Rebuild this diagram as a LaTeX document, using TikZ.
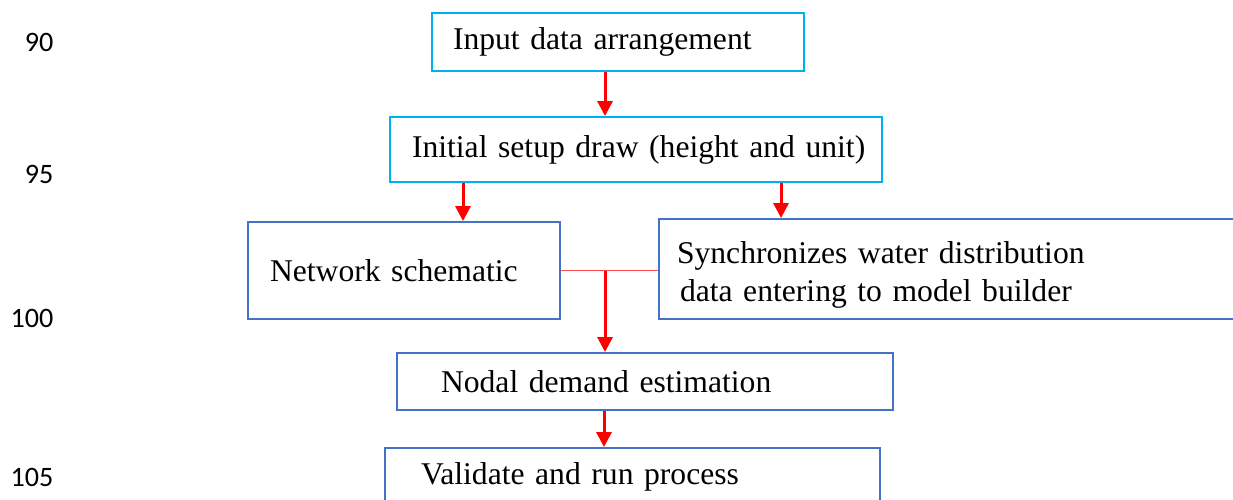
\documentclass[tikz,border=0pt]{standalone}
\usepackage{fontspec}
\setmainfont{Liberation Serif}
\newfontfamily\numfont{Carlito}
\usetikzlibrary{arrows.meta}

\definecolor{boxcyan}{HTML}{00B0F0}
\definecolor{boxblue}{HTML}{4472C4}
\definecolor{linkred}{HTML}{FF4B4B}

\tikzset{
  stepbox/.style={draw=boxblue, line width=1.1pt, rectangle, align=left,
    font=\fontsize{18}{22}\selectfont, inner ysep=0pt, anchor=center},
  topbox/.style={stepbox, draw=boxcyan},
  arr/.style={red, line width=1.7pt, -{Triangle[width=8.5pt,length=8.5pt]}},
  link/.style={linkred, line width=0.9pt},
  linenum/.style={font=\numfont\fontsize{16}{18}\selectfont, anchor=east}
}

\begin{document}
\begin{tikzpicture}

    \useasboundingbox (0,0) rectangle (24.66,-9.98);
    \clip (0,0) rectangle (24.66,-9.98);

    % line numbers
    \node[linenum] (n90)  at (1.19,-0.84) {90};
    \node[linenum] (n95)  at (1.19,-3.48) {95};
    \node[linenum] (n100) at (1.19,-6.36) {100};
    \node[linenum] (n105) at (1.19,-9.54) {105};

    % boxes
    \node[topbox, minimum width=7.44cm, minimum height=1.16cm,
          text width=6.6cm, inner xsep=0.42cm] (input) at (12.36,-0.84)
          {Input data arrangement};
    \node[topbox, minimum width=9.84cm, minimum height=1.30cm,
          text width=9.2cm, inner xsep=0.32cm] (setup) at (12.72,-2.99)
          {\hspace*{0.12cm}Initial setup draw (height and unit)};
    \node[stepbox, minimum width=6.24cm, minimum height=1.94cm,
          text width=5.36cm, inner xsep=0.44cm] (netw) at (8.08,-5.41)
          {Network schematic};
    \node[stepbox, minimum width=11.82cm, minimum height=2.00cm,
          text width=11.10cm, inner xsep=0.36cm] (sync) at (19.09,-5.38)
          {\rule{0pt}{0.68cm}Synchronizes water distribution\\\hspace{0.06cm}data entering to model builder};
    \node[stepbox, minimum width=9.92cm, minimum height=1.14cm,
          text width=8.16cm, inner xsep=0.88cm] (nodal) at (12.90,-7.63)
          {Nodal demand estimation};
    \node[stepbox, minimum width=9.90cm, minimum height=1.16cm,
          text width=8.46cm, inner xsep=0.72cm] (valid) at (12.65,-9.54)
          {Validate and run process};

    % connectors
    \draw[arr] ([xshift=-0.26cm]input.south) -- ([xshift=-0.26cm]input.south |- setup.north);
    \draw[arr] ([xshift=1.18cm]netw.north |- setup.south) -- ([xshift=1.18cm]netw.north);
    \draw[arr] ([xshift=2.46cm]sync.north west |- setup.south) -- ([xshift=2.46cm]sync.north west);

    \coordinate (junc) at ([xshift=-0.80cm]nodal.north |- netw.east);
    \draw[link] (netw.east) -- (netw.east -| sync.west);
    \draw[arr] (junc) -- (junc |- nodal.north);

    \draw[arr] ([xshift=-0.82cm]nodal.south) -- ([xshift=-0.82cm]nodal.south |- valid.north);

\end{tikzpicture}
\end{document}
